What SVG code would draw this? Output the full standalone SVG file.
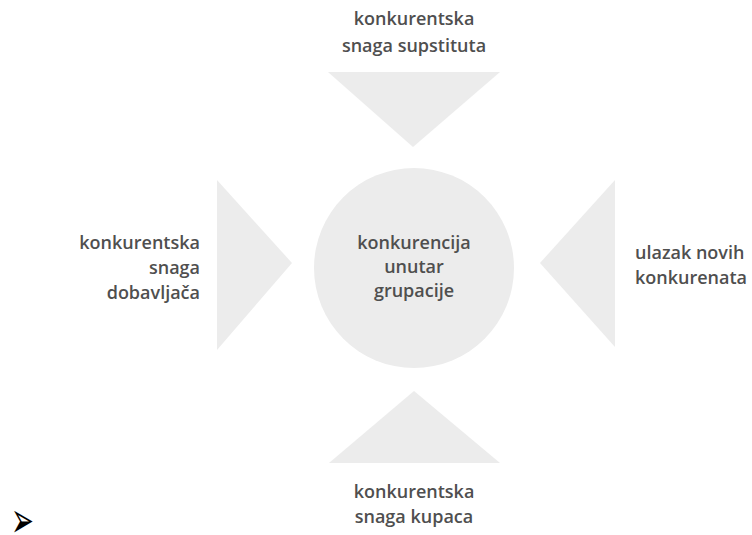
<svg xmlns="http://www.w3.org/2000/svg" width="752" height="535" viewBox="0 0 752 535">
<style>
.shape{fill:#ececec}
.lbl{font-family:"Open Sans","Noto Sans",sans-serif;font-size:18px;font-weight:600;fill:#4f4f4f}
.mid{text-anchor:middle}
.end{text-anchor:end}
</style>
<rect width="752" height="535" fill="#ffffff"/>
<g id="center">
<circle class="shape" cx="414" cy="268" r="100"/>
<text class="lbl mid" x="414" y="249">konkurencija</text>
<text class="lbl mid" x="414" y="273">unutar</text>
<text class="lbl mid" x="414" y="297">grupacije</text>
</g>
<g id="top">
<text class="lbl mid" x="414" y="25">konkurentska</text>
<text class="lbl mid" x="414" y="52">snaga supstituta</text>
</g>
<g id="left">
<text class="lbl end" x="200" y="249">konkurentska</text>
<text class="lbl end" x="200" y="274">snaga</text>
<text class="lbl end" x="200" y="299">dobavljača</text>
</g>
<g id="right">
<text class="lbl" x="635" y="259">ulazak novih</text>
<text class="lbl" x="635" y="284">konkurenata</text>
</g>
<g id="bottom">
<text class="lbl mid" x="414" y="498">konkurentska</text>
<text class="lbl mid" x="414" y="523">snaga kupaca</text>
</g>
<g id="connectors">
<polygon class="shape" points="328,72 500,72 413,147"/>
<polygon class="shape" points="217,180 292,263 217,350"/>
<polygon class="shape" points="615,180 540,263 615,347"/>
<polygon class="shape" points="414,391 500,463 329,463"/>
</g>
<text transform="translate(11,537) scale(1.05,1.9)" x="0" y="0" style="font-family:'DejaVu Sans',sans-serif;font-size:26px;fill:#000">➢</text>
</svg>
